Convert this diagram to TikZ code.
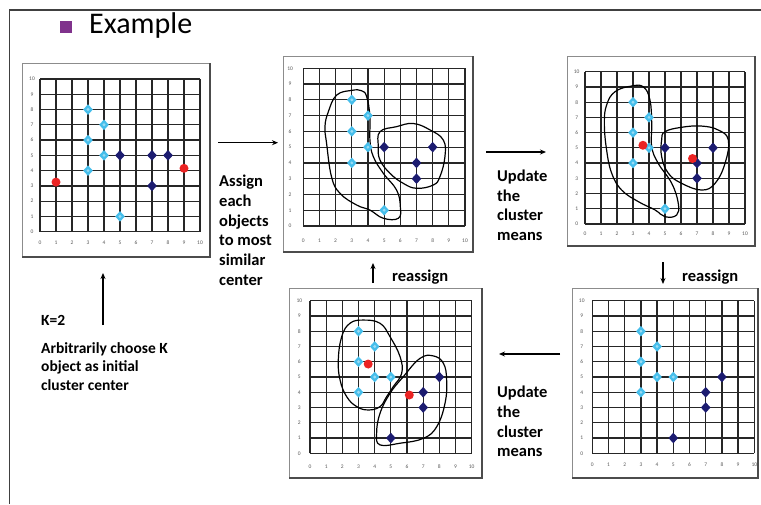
\documentclass[tikz,border=0pt]{standalone}
\usepackage{fontspec}
\setmainfont{Carlito}
\usetikzlibrary{arrows.meta}
\definecolor{cpt}{RGB}{70,190,235}
\definecolor{npt}{RGB}{28,28,112}
\definecolor{rpt}{RGB}{235,35,35}
\definecolor{bul}{RGB}{128,50,140}
\tikzset{
  gridln/.style={black!85, line width=1.25pt},
  ticklbl/.style={font=\fontsize{5.5}{5.5}\selectfont, text=black!65, inner sep=0pt},
  blob/.style={black, line width=1.2pt},
  panelframe/.style={draw=black!45, line width=0.8pt},
  panelshadow/.style={black!70, line width=1.8pt},
  lbl/.style={font=\fontsize{16.5}{19.7}\selectfont\bfseries, align=left, anchor=base west, inner sep=0pt},
  arr/.style={-{Stealth[length=6pt,width=5pt]}, line width=1.2pt},
}
\newcommand\gridplot[3]{%
  \foreach \i in {0,...,10}{
    \draw[gridln] (\i,0) -- (\i,10);
    \draw[gridln] (0,\i) -- (10,\i);
    \node[ticklbl] (#3y\i) at (#1,\i) {\i};
    \node[ticklbl] (#3x\i) at (\i,#2) {\i};
  }}
\newcommand\cyanpt[1]{\fill[cpt] #1 +(0pt,5.3pt) -- +(4.8pt,0pt) -- +(0pt,-5.3pt) -- +(-4.8pt,0pt) -- cycle; \fill[white,opacity=0.45] #1 circle (1.6pt);}
\newcommand\navypt[1]{\fill[npt] #1 +(0pt,5.3pt) -- +(4.8pt,0pt) -- +(0pt,-5.3pt) -- +(-4.8pt,0pt) -- cycle;}
\newcommand\redpt[1]{\fill[rpt] #1 circle (4.5pt);}
\newcommand\panelbox[4]{%
  \draw[panelframe] (#1,#2) rectangle (#3,#4);
  \draw[panelshadow] (#1,#4) -- (#3,#4) -- (#3,#2);}
\begin{document}
\begin{tikzpicture}[x=1pt,y=-1pt]
\useasboundingbox (0,0) rectangle (761,504);
\fill[white] (0,0) rectangle (761,504);
% outer frame
\draw[black!75, line width=1.2pt] (761,10) -- (9.5,10) -- (9.5,504);
% title
\node[fill=bul, minimum size=12pt, inner sep=0pt] (bullet) at (66.3,27) {};
\node[font=\fontsize{30}{30}\selectfont, anchor=base west, inner sep=0pt] (title) at (89,33) {Example};

% panel frames
\panelbox{22}{63}{210}{257}
\panelbox{283}{56}{473}{252}
\panelbox{567}{56}{755}{246}
\panelbox{572}{288}{758}{478}
\panelbox{289}{288}{482}{478}

% panel 1
\begin{scope}[shift={(40,231.7)}, x=16pt, y=15.27pt]
  \gridplot{-0.5}{-0.74}{pa}
  \foreach \a/\b in {3/8,4/7,3/6,4/5,3/4,5/1} {\cyanpt{(\a,\b)}}
  \foreach \a/\b in {5/5,7/5,8/5,7/3} {\navypt{(\a,\b)}}
  \redpt{(1,3.25)}
  \redpt{(9,4.15)}
\end{scope}

% panel 2
\begin{scope}[shift={(303.3,226)}, x=16.17pt, y=15.77pt]
  \gridplot{-0.82}{-0.93}{pb}
  \draw[blob] plot[smooth cycle, tension=0.7] coordinates {(3.0,8.6) (2.06,8.3) (1.55,7.25) (1.34,6.3) (1.44,5.24) (1.75,3.1) (2.27,2.07) (3.3,1.33) (4.12,1.01) (4.95,0.49) (5.88,0.49) (6,1.23) (5.77,2.28) (4.95,3.34) (4.33,4.4) (4.12,5.45) (4.12,6.93) (3.92,8.2) (3.6,8.58)};
  \draw[blob] plot[smooth cycle, tension=0.7] coordinates {(4.74,5.98) (5.77,6.3) (6.8,6.5) (7.84,6.09) (8.66,5.45) (8.76,4.4) (8.45,3.13) (8.04,2.6) (7.01,2.39) (6.19,2.7) (5.36,3.34) (4.74,4.19) (4.64,5.03)};
  \foreach \a/\b in {3/8,4/7,3/6,4/5,3/4,5/1} {\cyanpt{(\a,\b)}}
  \foreach \a/\b in {5/5,8/5,7/4,7/3} {\navypt{(\a,\b)}}
\end{scope}

% panel 3
\begin{scope}[shift={(585,224)}, x=16pt, y=15.23pt]
  \gridplot{-0.52}{-0.66}{pc}
  \draw[blob] plot[smooth cycle, tension=0.7] coordinates {(2.92,9.06) (1.88,8.69) (1.35,7.81) (1.21,6.6) (1.35,4.86) (1.67,3.33) (2.29,2.23) (3.33,1.47) (4.38,0.92) (5,0.48) (5.73,0.59) (5.83,1.36) (5.42,2.67) (4.58,3.98) (4.17,5.08) (4.17,6.6) (4.06,8.14) (3.65,9.0)};
  \draw[blob] plot[smooth cycle, tension=0.7] coordinates {(5,6.06) (6.04,6.35) (7.29,6.43) (8.33,6.17) (8.96,5.51) (8.75,3.98) (8.13,2.67) (7.29,2.23) (6.04,2.67) (5.21,3.33) (4.79,4.42) (4.79,5.51)};
  \foreach \a/\b in {3/8,4/7,3/6,4/5,3/4,5/1} {\cyanpt{(\a,\b)}}
  \foreach \a/\b in {5/5,8/5,7/4,7/3} {\navypt{(\a,\b)}}
  \redpt{(3.62,5.17)}
  \redpt{(6.72,4.3)}
\end{scope}

% panel 4
\begin{scope}[shift={(592.3,453.3)}, x=16.2pt, y=15.26pt]
  \gridplot{-0.65}{-0.77}{pd}
  \foreach \a/\b in {3/8,4/7,3/6,4/5,5/5,3/4} {\cyanpt{(\a,\b)}}
  \foreach \a/\b in {8/5,7/4,7/3,5/1} {\navypt{(\a,\b)}}
\end{scope}

% panel 5
\begin{scope}[shift={(310,453.3)}, x=16.17pt, y=15.26pt]
  \gridplot{-0.66}{-0.88}{pe}
  \draw[blob] plot[smooth cycle, tension=0.7] coordinates {(3.3,8.73) (2.47,8.52) (1.96,7.64) (1.75,6.11) (1.86,4.8) (2.27,3.71) (2.89,3.06) (3.61,2.84) (4.33,3.06) (4.74,3.71) (5.15,4.37) (5.67,5.24) (5.57,6.33) (4.95,7.64) (4.33,8.52)};
  \draw[blob] plot[smooth cycle, tension=0.7] coordinates {(6.8,6.22) (7.63,6.38) (8.25,5.9) (8.45,4.8) (8.35,3.28) (7.84,1.75) (7.01,0.98) (5.57,0.66) (4.33,0.55) (4.12,1.31) (4.33,2.62) (4.95,3.93) (5.77,5.02)};
  \foreach \a/\b in {3/8,4/7,3/6,4/5,5/5,3/4} {\cyanpt{(\a,\b)}}
  \foreach \a/\b in {8/5,7/4,7/3,5/1} {\navypt{(\a,\b)}}
  \redpt{(3.6,5.85)}
  \redpt{(6.14,3.82)}
\end{scope}

% labels (anchor = baseline of last line)
\node[lbl] (assign) at (219,285.2) {Assign\\each\\objects\\to most\\similar\\center};
\node[lbl] (upd1) at (497,240.5) {Update\\the\\cluster\\means};
\node[lbl] (upd2) at (497,456.7) {Update\\the\\cluster\\means};
\node[lbl] (reas1) at (392,281) {reassign};
\node[lbl] (reas2) at (682,281) {reassign};
\node[lbl, font=\fontsize{15.5}{18.5}\selectfont\bfseries] (k2) at (41,325) {K=2};
\node[lbl, font=\fontsize{15.5}{18.5}\selectfont\bfseries] (arb) at (41,390) {Arbitrarily choose K\\object as initial\\cluster center};

% arrows
\coordinate (a1s) at (218,142.7); \coordinate (a1e) at (278,142.7);
\coordinate (a2s) at (486,152);   \coordinate (a2e) at (546,152);
\coordinate (a3s) at (560,354);   \coordinate (a3e) at (499,354);
\coordinate (a4s) at (103,325);   \coordinate (a4e) at (103,273);
\coordinate (a5s) at (373,283);   \coordinate (a5e) at (373,263);
\coordinate (a6s) at (663,262);   \coordinate (a6e) at (663,284);
\draw[arr] (a1s) -- (a1e);
\draw[arr, line width=1.5pt] (a2s) -- (a2e);
\draw[arr] (a3s) -- (a3e);
\draw[arr] (a4s) -- (a4e);
\draw[arr] (a5s) -- (a5e);
\draw[arr] (a6s) -- (a6e);
\end{tikzpicture}
\end{document}
